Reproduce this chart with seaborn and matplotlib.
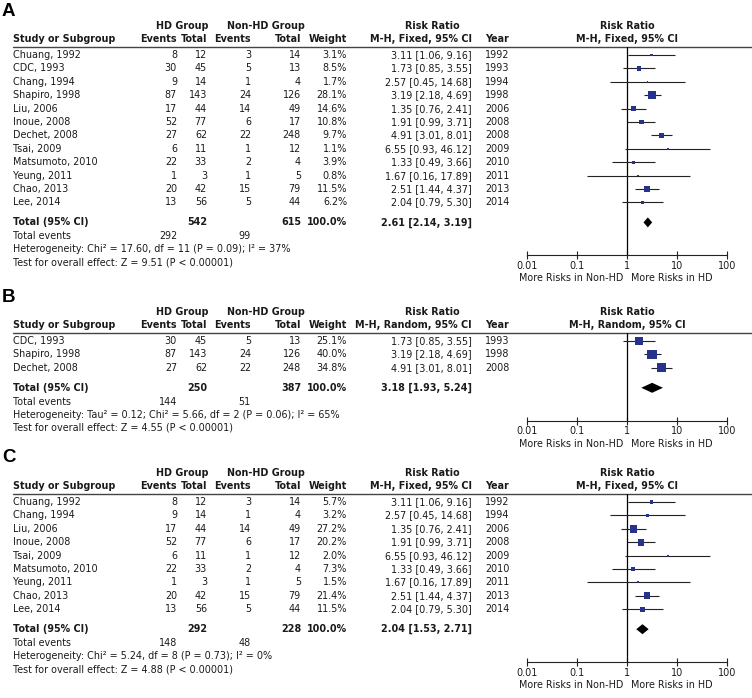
import numpy as np
import pandas as pd
import matplotlib
matplotlib.use('Agg')
import matplotlib.pyplot as plt
import seaborn as sns

sns.set_theme(style='white')
plt.rcParams['font.family'] = ['DejaVu Sans']

# ---- data, panel A (all studies, fixed) ----
studies_a = ['Chuang, 1992', 'CDC, 1993', 'Chang, 1994', 'Shapiro, 1998', 'Liu, 2006', 'Inoue, 2008',
             'Dechet, 2008', 'Tsai, 2009', 'Matsumoto, 2010', 'Yeung, 2011', 'Chao, 2013', 'Lee, 2014']
hd_events_a = [8, 30, 9, 87, 17, 52, 27, 6, 22, 1, 20, 13]
hd_total_a = [12, 45, 14, 143, 44, 77, 62, 11, 33, 3, 42, 56]
non_events_a = [3, 5, 1, 24, 14, 6, 22, 1, 2, 1, 15, 5]
non_total_a = [14, 13, 4, 126, 49, 17, 248, 12, 4, 5, 79, 44]
weight_a = [3.1, 8.5, 1.7, 28.1, 14.6, 10.8, 9.7, 1.1, 3.9, 0.8, 11.5, 6.2]
rr_a = [3.11, 1.73, 2.57, 3.19, 1.35, 1.91, 4.91, 6.55, 1.33, 1.67, 2.51, 2.04]
lo_a = [1.06, 0.85, 0.45, 2.18, 0.76, 0.99, 3.01, 0.93, 0.49, 0.16, 1.44, 0.79]
hi_a = [9.16, 3.55, 14.68, 4.69, 2.41, 3.71, 8.01, 46.12, 3.66, 17.89, 4.37, 5.30]
years_a = [1992, 1993, 1994, 1998, 2006, 2008, 2008, 2009, 2010, 2011, 2013, 2014]
total_a = [542, 615, 292, 99]          # hd total, non total, hd events, non events
pooled_a = [2.61, 2.14, 3.19]
het_a = 'Heterogeneity: Chi² = 17.60, df = 11 (P = 0.09); I² = 37%'
test_a = 'Test for overall effect: Z = 9.51 (P < 0.00001)'

# ---- panel B (random) ----
studies_b = ['CDC, 1993', 'Shapiro, 1998', 'Dechet, 2008']
hd_events_b = [30, 87, 27]
hd_total_b = [45, 143, 62]
non_events_b = [5, 24, 22]
non_total_b = [13, 126, 248]
weight_b = [25.1, 40.0, 34.8]
rr_b = [1.73, 3.19, 4.91]
lo_b = [0.85, 2.18, 3.01]
hi_b = [3.55, 4.69, 8.01]
years_b = [1993, 1998, 2008]
total_b = [250, 387, 144, 51]
pooled_b = [3.18, 1.93, 5.24]
het_b = 'Heterogeneity: Tau² = 0.12; Chi² = 5.66, df = 2 (P = 0.06); I² = 65%'
test_b = 'Test for overall effect: Z = 4.55 (P < 0.00001)'

# ---- panel C (fixed, subset) ----
studies_c = ['Chuang, 1992', 'Chang, 1994', 'Liu, 2006', 'Inoue, 2008', 'Tsai, 2009',
             'Matsumoto, 2010', 'Yeung, 2011', 'Chao, 2013', 'Lee, 2014']
hd_events_c = [8, 9, 17, 52, 6, 22, 1, 20, 13]
hd_total_c = [12, 14, 44, 77, 11, 33, 3, 42, 56]
non_events_c = [3, 1, 14, 6, 1, 2, 1, 15, 5]
non_total_c = [14, 4, 49, 17, 12, 4, 5, 79, 44]
weight_c = [5.7, 3.2, 27.2, 20.2, 2.0, 7.3, 1.5, 21.4, 11.5]
rr_c = [3.11, 2.57, 1.35, 1.91, 6.55, 1.33, 1.67, 2.51, 2.04]
lo_c = [1.06, 0.45, 0.76, 0.99, 0.93, 0.49, 0.16, 1.44, 0.79]
hi_c = [9.16, 14.68, 2.41, 3.71, 46.12, 3.66, 17.89, 4.37, 5.30]
years_c = [1992, 1994, 2006, 2008, 2009, 2010, 2011, 2013, 2014]
total_c = [292, 228, 148, 48]
pooled_c = [2.04, 1.53, 2.71]
het_c = 'Heterogeneity: Chi² = 5.24, df = 8 (P = 0.73); I² = 0%'
test_c = 'Test for overall effect: Z = 4.88 (P < 0.00001)'

W, H = 752, 698
FS = 6.9
NAVY = '#27328a'
TXT = '#1a1a1a'

X_STUDY = 13
X_HDE, X_HDT, X_NE, X_NT, X_WT, X_RR, X_YR = 177, 207, 251, 301, 347, 472, 485
FX0, FX1, FX_ONE = 527, 727, 627
ROW = 13.4

fig = plt.figure(figsize=(W / 100, H / 100), dpi=100)
bg = fig.add_axes([0, 0, 1, 1])
bg.set_xlim(0, W)
bg.set_ylim(H, 0)
bg.axis('off')


def txt(x, y, s, ha='left', bold=False, **kw):
    bg.text(x, y, s, ha=ha, va='center', fontsize=FS, color=TXT,
            fontweight='bold' if bold else 'normal', **kw)


def panel(L, letter, method, df, tot, pooled, het, test):
    h1, h2, line = L + 15, L + 28, L + 36
    ys = L + 44 + ROW * np.arange(len(df))
    ytot = ys[-1] + 20
    yaxis = ytot + 33

    bg.text(2, L, letter, fontsize=13.5, fontweight='bold', family='Liberation Sans',
            va='center', ha='left', color='black')

    # headers
    txt((X_HDE + X_HDT) / 2 - 10, h1, 'HD Group', ha='center', bold=True)
    txt((X_NE + X_NT) / 2 - 10, h1, 'Non-HD Group', ha='center', bold=True)
    txt(X_RR - 40, h1, 'Risk Ratio', ha='center', bold=True)
    txt(X_STUDY, h2, 'Study or Subgroup', bold=True)
    for x, s in [(X_HDE, 'Events'), (X_HDT, 'Total'), (X_NE, 'Events'), (X_NT, 'Total'),
                 (X_WT, 'Weight'), (X_RR, method)]:
        txt(x, h2, s, ha='right', bold=True)
    txt(X_YR, h2, 'Year', bold=True)
    txt(FX_ONE, h1, 'Risk Ratio', ha='center', bold=True)
    txt(FX_ONE, h2, method, ha='center', bold=True)
    bg.plot([X_STUDY, W], [line, line], color='#444444', lw=1.0)

    # study rows
    for y, (_, r) in zip(ys, df.iterrows()):
        txt(X_STUDY, y, r['study'])
        txt(X_HDE, y, str(r['hd_e']), ha='right')
        txt(X_HDT, y, str(r['hd_t']), ha='right')
        txt(X_NE, y, str(r['non_e']), ha='right')
        txt(X_NT, y, str(r['non_t']), ha='right')
        txt(X_WT, y, f"{r['weight']:.1f}%", ha='right')
        txt(X_RR, y, f"{r['rr']:.2f} [{r['lo']:.2f}, {r['hi']:.2f}]", ha='right')
        txt(X_YR, y, str(r['year']))

    # totals
    txt(X_STUDY, ytot, 'Total (95% CI)', bold=True)
    txt(X_HDT, ytot, str(tot[0]), ha='right', bold=True)
    txt(X_NT, ytot, str(tot[1]), ha='right', bold=True)
    txt(X_WT, ytot, '100.0%', ha='right', bold=True)
    txt(X_RR, ytot, f'{pooled[0]:.2f} [{pooled[1]:.2f}, {pooled[2]:.2f}]', ha='right', bold=True)
    txt(X_STUDY, ytot + 14, 'Total events')
    txt(X_HDE, ytot + 14, str(tot[2]), ha='right')
    txt(X_NE, ytot + 14, str(tot[3]), ha='right')
    txt(X_STUDY, ytot + 27, het)
    txt(X_STUDY, ytot + 40, test)

    # forest
    ax = fig.add_axes([FX0 / W, 1 - yaxis / H, (FX1 - FX0) / W, (yaxis - line) / H])
    ax.patch.set_alpha(0)
    ax.set_xscale('log')
    ax.set_xlim(0.01, 100)
    ax.set_ylim(yaxis, line)
    ax.axvline(1, color='black', lw=0.9)
    ax.hlines(ys, df['lo'], df['hi'], color='#222222', lw=0.8)
    side_pt = 1.5 * np.sqrt(df['weight'].to_numpy()) * 0.72
    sns.scatterplot(x=df['rr'].to_numpy(), y=ys, marker='s', s=side_pt ** 2, color=NAVY,
                    linewidth=0, ax=ax, legend=False, zorder=3)
    ax.fill([pooled[1], pooled[0], pooled[2], pooled[0]],
            [ytot, ytot - 5, ytot, ytot + 5], color='black', lw=0, zorder=3)
    for s in ['top', 'left', 'right']:
        ax.spines[s].set_visible(False)
    ax.spines['bottom'].set_color('#222222')
    ax.spines['bottom'].set_linewidth(0.8)
    ax.set_yticks([])
    ax.set_xticks([0.01, 0.1, 1, 10, 100])
    ax.set_xticklabels(['0.01', '0.1', '1', '10', '100'], fontsize=FS, color=TXT)
    ax.minorticks_off()
    ax.tick_params(axis='x', direction='inout', length=6, width=0.8, pad=1, colors='#222222',
                   bottom=True, labelcolor=TXT)
    txt(FX_ONE - 4, yaxis + 23, 'More Risks in Non-HD', ha='right')
    txt(FX_ONE + 4, yaxis + 23, 'More Risks in HD', ha='left')


def make_df(st, he, ht, ne, nt, w, rr, lo, hi, yr):
    return pd.DataFrame({'study': st, 'hd_e': he, 'hd_t': ht, 'non_e': ne, 'non_t': nt,
                         'weight': w, 'rr': rr, 'lo': lo, 'hi': hi, 'year': yr})


df_a = make_df(studies_a, hd_events_a, hd_total_a, non_events_a, non_total_a, weight_a,
               rr_a, lo_a, hi_a, years_a)
df_b = make_df(studies_b, hd_events_b, hd_total_b, non_events_b, non_total_b, weight_b,
               rr_b, lo_b, hi_b, years_b)
df_c = make_df(studies_c, hd_events_c, hd_total_c, non_events_c, non_total_c, weight_c,
               rr_c, lo_c, hi_c, years_c)

panel(11, 'A', 'M-H, Fixed, 95% CI', df_a, total_a, pooled_a, het_a, test_a)
panel(297, 'B', 'M-H, Random, 95% CI', df_b, total_b, pooled_b, het_b, test_b)
panel(458, 'C', 'M-H, Fixed, 95% CI', df_c, total_c, pooled_c, het_c, test_c)

fig.savefig('out.png', dpi=100)
